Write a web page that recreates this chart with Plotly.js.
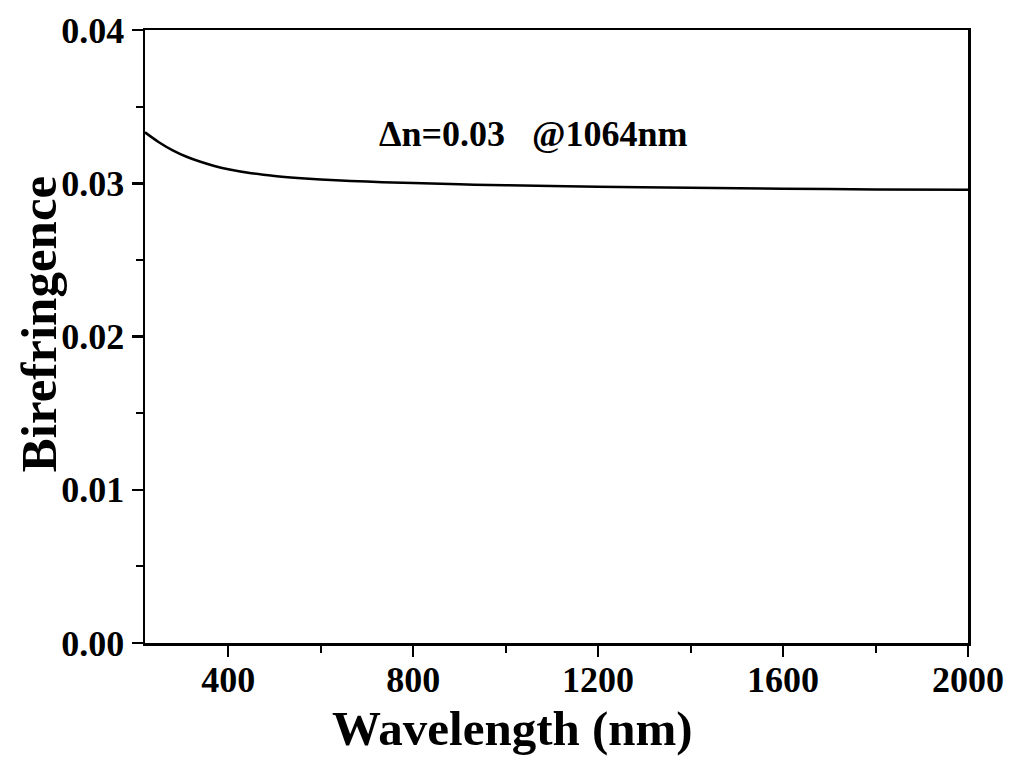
<!DOCTYPE html>
<html>
<head>
<meta charset="utf-8">
<script src="https://cdn.plot.ly/plotly-3.0.1.min.js"></script>
<style>html,body{margin:0;padding:0;background:#fff;}#chart{width:1011px;height:758px;}</style>
</head>
<body>
<div id="chart"></div>
<script>
const wavelength = [220, 250, 280, 310, 340, 370, 400, 450, 500, 550, 600, 700, 800, 900, 1000, 1200, 1400, 1600, 1800, 2000];
const birefringence = [0.03332, 0.03268, 0.03215, 0.03173, 0.03140, 0.03113, 0.03092, 0.03066, 0.03048, 0.03035, 0.03025, 0.03011, 0.03001, 0.02993, 0.02987, 0.02977, 0.02970, 0.02964, 0.02960, 0.02957];
const xTicks = [400, 800, 1200, 1600, 2000];
const yTicks = [0.00, 0.01, 0.02, 0.03, 0.04];
const yTickLabels = ["0.00", "0.01", "0.02", "0.03", "0.04"];
const annotationText = "Δn=0.03   @1064nm";
const annotationX = 1061;
const annotationY = 0.0332;
const xTitle = "Wavelength (nm)";
const yTitle = "Birefringence";

const serif = "Liberation Serif, Times New Roman, serif";

const trace = {
  x: wavelength,
  y: birefringence,
  type: "scatter",
  mode: "lines",
  line: {color: "#000", width: 2.5, shape: "spline", smoothing: 1},
  hoverinfo: "skip"
};

const layout = {
  width: 1011,
  height: 758,
  margin: {l: 145, r: 43, t: 30, b: 115},
  paper_bgcolor: "#fff",
  plot_bgcolor: "#fff",
  showlegend: false,
  xaxis: {
    range: [220, 2000],
    tickvals: xTicks,
    ticktext: xTicks.map(String),
    ticks: "outside",
    ticklen: 11,
    tickwidth: 2.5,
    tickcolor: "#000",
    ticklabelstandoff: -8,
    minor: {dtick: 200, tick0: 0, ticks: "outside", ticklen: 7, tickwidth: 2, tickcolor: "#000", showgrid: false},
    showline: true,
    linecolor: "#000",
    linewidth: 2.5,
    mirror: true,
    showgrid: false,
    zeroline: false,
    tickfont: {family: serif, size: 36, color: "#000", weight: "bold"}
  },
  yaxis: {
    range: [0, 0.04],
    tickvals: yTicks,
    ticktext: yTickLabels,
    ticks: "outside",
    ticklen: 11,
    tickwidth: 2.5,
    tickcolor: "#000",
    minor: {dtick: 0.005, tick0: 0, ticks: "outside", ticklen: 7, tickwidth: 2, tickcolor: "#000", showgrid: false},
    showline: true,
    linecolor: "#000",
    linewidth: 2.5,
    mirror: true,
    showgrid: false,
    zeroline: false,
    tickfont: {family: serif, size: 36, color: "#000", weight: "bold"}
  },
  annotations: [
    {
      x: annotationX,
      y: annotationY,
      xref: "x",
      yref: "y",
      text: annotationText,
      showarrow: false,
      xanchor: "center",
      yanchor: "middle",
      font: {family: serif, size: 36, color: "#000", weight: "bold"}
    },
    {
      x: 0.4471,
      y: -0.14,
      xref: "paper",
      yref: "paper",
      text: xTitle,
      showarrow: false,
      xanchor: "center",
      yanchor: "middle",
      font: {family: serif, size: 49, color: "#000", weight: "bold"}
    },
    {
      x: -0.1288,
      y: 0.52,
      xref: "paper",
      yref: "paper",
      text: yTitle,
      textangle: -90,
      showarrow: false,
      xanchor: "center",
      yanchor: "middle",
      font: {family: serif, size: 51, color: "#000", weight: "bold"}
    }
  ]
};

Plotly.newPlot("chart", [trace], layout, {displayModeBar: false, staticPlot: true});
</script>
</body>
</html>
